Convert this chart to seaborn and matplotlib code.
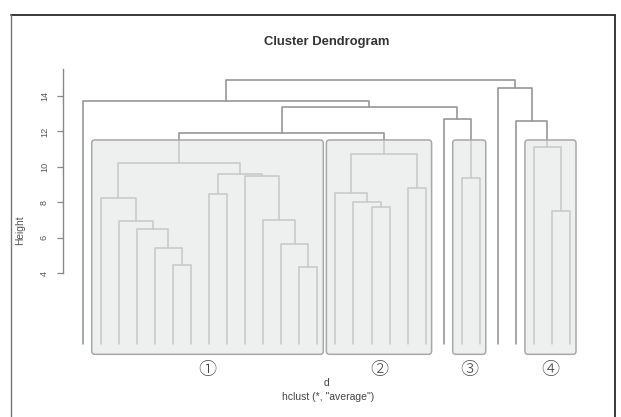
import numpy as np
import pandas as pd
import matplotlib
matplotlib.use("Agg")
import matplotlib.pyplot as plt
import seaborn as sns
from matplotlib.patches import FancyBboxPatch
from matplotlib.lines import Line2D

# ---- data (R-style hclust merge matrix; negative = leaf, positive = earlier merge) ----
merge_left = [-13, -6, -5, -12, -4, -3, -11, -27, -17, -16, -2, -8, -15, -19,
              -22, -10, 12, 11, 13, -26, 18, -25, -21, 21, -1, -24, 25]
merge_right = [-14, -7, 2, 1, 3, 5, 4, -28, -18, 9, 6, -9, 10, -20,
               -23, 7, 16, 17, 14, 8, 19, 20, 15, 23, 24, 22, 26]
merge_height = [4.37, 4.47, 5.45, 5.65, 6.48, 6.95, 7.01, 7.53, 7.72, 8.04,
                8.26, 8.46, 8.55, 8.79, 9.39, 9.50, 9.58, 10.20, 10.71, 11.14,
                11.90, 12.59, 12.69, 13.40, 13.74, 14.43, 14.90]
n_leaves = 28
leaf_base = 0.0
cluster_first = [2, 15, 22, 26]
cluster_last = [14, 20, 23, 28]
cluster_labels = ["①", "②", "③", "④"]
cluster_top = 11.52
y_ticks = [4, 6, 8, 10, 12, 14]
title = "Cluster Dendrogram"
xlab = "d"
sub = 'hclust (*, "average")'
ylab = "Height"

# ---- build segments ----
node_x, node_h = {}, {}
def pos(c):
    if c < 0:
        return float(-c), leaf_base
    return node_x[c], node_h[c]

rows = []
for i, (l, r, h) in enumerate(zip(merge_left, merge_right, merge_height), start=1):
    xl, hl = pos(l)
    xr, hr = pos(r)
    node_x[i] = (xl + xr) / 2
    node_h[i] = h
    for px, py in [(xl, hl), (xl, h), (xr, h), (xr, hr)]:
        rows.append({"node": i, "x": px, "h": py})
seg = pd.DataFrame(rows)

# ---- figure ----
sns.set_style("white")
plt.rcParams["font.family"] = ["Liberation Sans", "Noto Sans CJK JP", "DejaVu Sans"]

W, H = 621, 417
fig = plt.figure(figsize=(W / 100, H / 100), dpi=100)
fig.patch.set_facecolor("white")

# pixel geometry of plot region
ax_l, ax_r, ax_t, ax_b = 63.3, 600.0, 60.0, 360.0
ax = fig.add_axes([ax_l / W, 1 - ax_b / H, (ax_r - ax_l) / W, (ax_b - ax_t) / H])
ax.set_facecolor("none")

x0px, dxpx = 82.7, 18.05
y4px, dypx = 273.3, 17.73
ax.set_xlim(1 + (ax_l - x0px) / dxpx, 1 + (ax_r - x0px) / dxpx)
ax.set_ylim(4 - (ax_b - y4px) / dypx, 4 + (y4px - ax_t) / dypx)

line_col = "#939393"
sns.lineplot(data=seg, x="x", y="h", units="node", estimator=None, sort=False,
             color=line_col, lw=1.15, ax=ax, legend=False, zorder=2)

# cluster boxes
box_bottom = -0.57
for f, l, lab in zip(cluster_first, cluster_last, cluster_labels):
    x_a, x_b = f - 0.50, l + 0.33
    box = FancyBboxPatch((x_a, box_bottom), x_b - x_a, cluster_top - box_bottom,
                         boxstyle="round,pad=0,rounding_size=0.18",
                         mutation_aspect=1.0,
                         facecolor=(0.90, 0.905, 0.905, 0.65),
                         edgecolor="#a8a8a8", lw=1.1, zorder=3)
    ax.add_patch(box)
    ax.text((x_a + x_b) / 2, -1.45, lab, ha="center", va="center",
            fontsize=13, color="#444444", clip_on=False,
            family=["Noto Sans CJK JP", "DejaVu Sans"], fontweight="light")

# axes styling
for s in ["top", "right", "bottom"]:
    ax.spines[s].set_visible(False)
ax.spines["left"].set_color("#888888")
ax.spines["left"].set_linewidth(1.0)
ax.spines["left"].set_bounds(4, 15.55)
ax.set_xticks([])
ax.set_yticks(y_ticks)
ax.set_yticklabels([str(t) for t in y_ticks], rotation=90, va="center")
ax.tick_params(axis="y", length=4.3, width=0.9, color="#888888", pad=6.0,
               labelsize=6.6, labelcolor="#555555", left=True)
ax.set_xlabel("")
ax.set_ylabel("")

# texts
fig.text(326.7 / W, 1 - 42.3 / H, title, ha="center", va="center",
         fontsize=9.4, fontweight="bold", color="#333333")
fig.text(20 / W, 1 - 230 / H, ylab, ha="center", va="center", rotation=90,
         fontsize=7.4, color="#555555")
fig.text(326 / W, 1 - 382.7 / H, xlab, ha="center", va="center",
         fontsize=7.5, color="#444444")
fig.text(328 / W, 1 - 397.3 / H, sub, ha="center", va="center",
         fontsize=7.5, color="#444444")

# outer frame
def fl(x1, y1, x2, y2, c, lw):
    fig.add_artist(Line2D([x1 / W, x2 / W], [1 - y1 / H, 1 - y2 / H],
                          color=c, lw=lw, transform=fig.transFigure))
fl(11, 15, 615, 15, "#2a2a2a", 1.3)
fl(615, 15, 615, 420, "#2a2a2a", 1.3)
fl(11, 15, 11, 420, "#777777", 1.0)

fig.savefig("out.png", dpi=100, facecolor="white")
